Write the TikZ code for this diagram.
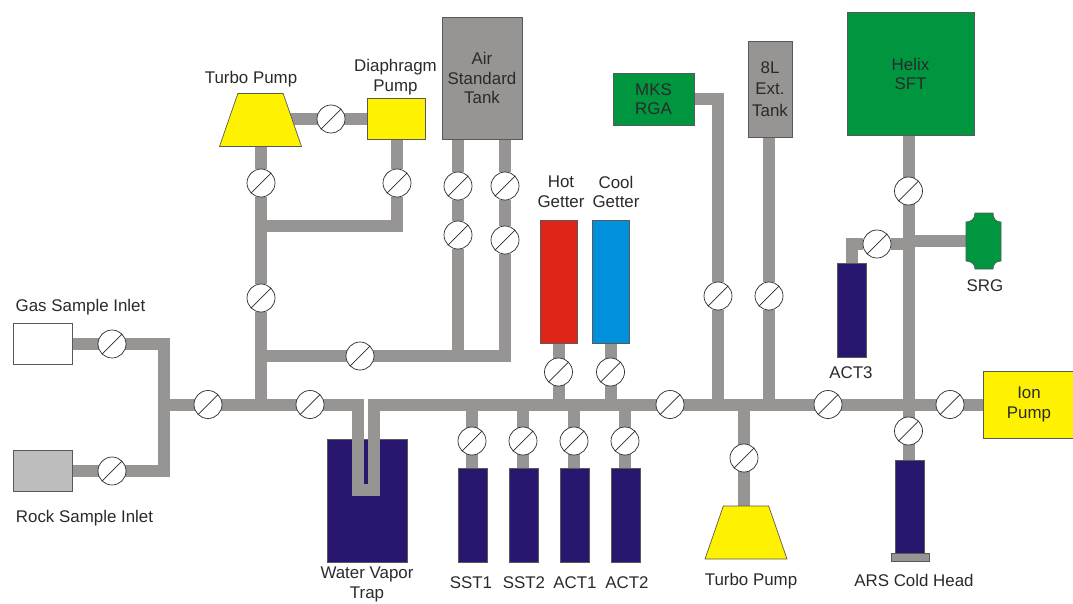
\documentclass[tikz,border=0pt]{standalone}
\usepackage{fontspec}
\setmainfont{Liberation Sans}
\usetikzlibrary{shapes.geometric}

\definecolor{pipegray}{HTML}{969593}
\definecolor{rockgray}{HTML}{BDBDBD}
\definecolor{navyvac}{HTML}{28166F}
\definecolor{pumpyellow}{HTML}{FFF200}
\definecolor{gaugegreen}{HTML}{009640}
\definecolor{hotred}{HTML}{DF2418}
\definecolor{coolblue}{HTML}{0090DC}
\definecolor{inkdark}{HTML}{2B2A29}

\pgfdeclarelayer{traplayer}
\pgfdeclarelayer{pipelayer}
\pgfsetlayers{traplayer,pipelayer,main}

\begin{document}
\begin{tikzpicture}[
    x = 1pt,
    y = -1pt,
    eqbox/.style = {
        draw        = black!65,
        line width  = 0.7pt,
        fill        = #1,
        inner sep   = 0pt,
        outer sep   = 0pt,
        align       = center,
        text        = inkdark,
        font        = \fontsize{16.9}{19.5}\selectfont
    },
    pumpcone/.style = {
        eqbox             = pumpyellow,
        shape             = trapezium,
        inner sep         = 2pt,
        trapezium left angle  = 68,
        trapezium right angle = 68,
        trapezium stretches   = true,
        minimum width     = 82,
        minimum height    = 53
    },
    pipe/.style = {
        draw        = pipegray,
        line width  = 12pt,
        line join   = miter
    },
    valve/.style = {
        shape       = circle,
        draw        = inkdark,
        line width  = 0.7pt,
        fill        = white,
        minimum size = 28,
        inner sep   = 0pt,
        path picture = {
            \draw[inkdark, line width=0.7pt]
                (path picture bounding box.south west)
                -- (path picture bounding box.north east);
        }
    },
    lab/.style = {
        align       = center,
        text        = inkdark,
        inner sep   = 0pt,
        font        = \fontsize{16.9}{19.5}\selectfont
    }
]

\useasboundingbox (0,0) rectangle (1073,603);

% ================================================================
%  EQUIPMENT
% ================================================================

\begin{pgfonlayer}{traplayer}
    \node[eqbox=navyvac, minimum width=80, minimum height=123] (trap) at (367,500.5) {};
\end{pgfonlayer}

\node[eqbox=white, minimum width=59, minimum height=41] (gasinlet) at (42.5,344) {};
\node[eqbox=rockgray, minimum width=59, minimum height=41] (rockinlet) at (42.5,471) {};

\node[pumpcone] (turboup) at (260.5,120) {};
\node[pumpcone] (turbolow) at (746,532.5) {};
\node[eqbox=pumpyellow, minimum width=58, minimum height=41] (diaphragm) at (396,118.5) {};

\node[eqbox=pipegray, minimum width=80, minimum height=122] (airtank) at (482,78) {Air\\Standard\\Tank};
\node[eqbox=pipegray, minimum width=44, minimum height=96] (exttank) at (770,89) {8L\\[2pt]Ext.\\[2pt]Tank};

\node[eqbox=hotred, minimum width=37, minimum height=123] (hotgetter) at (558.5,281.5) {};
\node[eqbox=coolblue, minimum width=37, minimum height=123] (coolgetter) at (610.5,281.5) {};

\node[eqbox=gaugegreen, minimum width=81, minimum height=52] (mksrga) at (653.5,99) {MKS\\RGA};
\node[eqbox=gaugegreen, minimum width=127, minimum height=123] (helix) at (910.5,74) {Helix\\SFT};
\node[eqbox=pumpyellow, minimum width=92, minimum height=67] (ionpump) at (1029,404.5) {Ion\\Pump};

% Sample traps below the main line
\foreach \gname/\gx in {sst1/472.5, sst2/523.5, act1/574.5, act2/625.5}{
    \node[eqbox=navyvac, minimum width=29, minimum height=94] (\gname) at (\gx,515) {};
}
\node[eqbox=navyvac, minimum width=29, minimum height=94] (act3) at (851.5,310) {};
\node[eqbox=navyvac, minimum width=29, minimum height=93] (coldhead) at (909.5,506.5) {};
\node[eqbox=pipegray, minimum width=38, minimum height=8] (coldbase) at (910,557) {};

% SRG (octagon with hollow corners)
\node[minimum width=35, minimum height=56, inner sep=0pt, outer sep=0pt] (srg) at (983.5,241) {};
\draw[eqbox=gaugegreen]
    (975,213) -- (993,213)
    .. controls (993,219) and (996,222) .. (1001,222) -- (1001,261)
    .. controls (996,261) and (993,264) .. (993,269) -- (975,269)
    .. controls (975,264) and (971,261) .. (966,261) -- (966,222)
    .. controls (971,222) and (975,219) .. (975,213) -- cycle;

% ================================================================
%  VALVES
% ================================================================

\foreach \vname/\vx/\vy in {
    vgas/112/344, vrock/112/471, vinlet/208/404.5, vtrap/310/404.5,
    vback/261/298, vturbo/261/183, vdia/331/119, vrough/397/183,
    vairAa/458/186, vairBa/505/186, vairAb/458/235, vairBb/505/240,
    vcross/360/356, vhot/558.5/372, vcool/610.5/372,
    vsst1/472/441, vsst2/523/441, vact1/574/441, vact2/625/441,
    vmid/670/404.5, vmks/718/296, vext/769/296, vturbolow/744/458,
    vright/828/404.5, vhelix/908.5/191, vact3/877/244, vion/950/404.5,
    vcold/908.5/431%
}{
    \node[valve] (\vname) at (\vx,\vy) {};
}

% ================================================================
%  JUNCTIONS
% ================================================================

\coordinate (jinlet)  at (164,404.5);
\coordinate (jturbo)  at (261,404.5);
\coordinate (jrough)  at (261,226);
\coordinate (jcross)  at (261,356);
\coordinate (jcrossr) at (505,356);
\coordinate (jleft)   at (458,356);
\coordinate (jtrapa)  at (358,490);
\coordinate (jtrapb)  at (374,490);
\coordinate (jmksup)  at (718,404.5);
\coordinate (jextup)  at (769,404.5);
\coordinate (jsrg)    at (908.5,241);
\coordinate (jact3)   at (908.5,244);

% ================================================================
%  PIPES
% ================================================================

\begin{pgfonlayer}{pipelayer}
    % Inlets
    \draw[pipe] (gasinlet) -| (jinlet) |- (rockinlet);

    % Main line, through the trap
    \draw[pipe] (jinlet) -| (jtrapa) -- (jtrapb) |- (ionpump);

    % Turbo pump and backing line
    \draw[pipe] (jturbo) -- (vback) -- (vturbo) -- (vturbo |- turboup);
    \draw[pipe] (diaphragm) -- (diaphragm -| turboup);
    \draw[pipe] (jrough) -| (vrough) -- (vrough |- diaphragm);

    % Air standard tank
    \draw[pipe] (jcross) -- (jcrossr) -- (vairBb) -- (vairBa) -- (vairBa |- airtank);
    \draw[pipe] (jleft) -- (vairAb) -- (vairAa) -- (vairAa |- airtank);

    % Getters
    \draw[pipe] (hotgetter |- jturbo) -- (hotgetter);
    \draw[pipe] (coolgetter |- jturbo) -- (coolgetter);
    \foreach \gname in {vsst1, vsst2, vact1, vact2}{
        \draw[pipe] (\gname |- jturbo) -- (\gname |- sst1);
    }

    % RGA, 8L tank
    \draw[pipe] (jmksup) -- (vmks) |- (mksrga);
    \draw[pipe] (jextup) -- (vext) -- (vext |- exttank);

    % Lower turbo pump
    \draw[pipe] (vturbolow |- jturbo) -- (vturbolow |- turbolow);

    % Helix, SRG, ACT3, cold head
    \draw[pipe] (jsrg |- helix) -- (jsrg |- coldhead);
    \draw[pipe] (jsrg) -- (srg);
    \draw[pipe] (jact3) -- (vact3) -| (act3);
\end{pgfonlayer}

% ================================================================
%  LABELS
% ================================================================

\node[lab] (labgas)   at (80.5,307.5) {Gas Sample Inlet};
\node[lab] (labrock)  at (84.5,518.5) {Rock Sample Inlet};
\node[lab] (labtrap)  at (367,584.5)  {Water Vapor\\Trap};
\node[lab] (labturbo) at (251,79.5)   {Turbo Pump};
\node[lab] (labdia)   at (395.5,77)   {Diaphragm\\Pump};
\node[lab] (labhot)   at (561,192)    {Hot\\Getter};
\node[lab] (labcool)  at (616,192)    {Cool\\Getter};
\node[lab] (labsst1)  at (471,582.5)  {SST1};
\node[lab] (labsst2)  at (524,582.5)  {SST2};
\node[lab] (labact1)  at (575,582.5)  {ACT1};
\node[lab] (labact2)  at (627,582.5)  {ACT2};
\node[lab] (labturbol) at (751,581.5) {Turbo Pump};
\node[lab] (labcold)  at (914,580)    {ARS Cold Head};
\node[lab] (labact3)  at (851,373)    {ACT3};
\node[lab] (labsrg)   at (985,286)    {SRG};

\end{tikzpicture}
\end{document}
